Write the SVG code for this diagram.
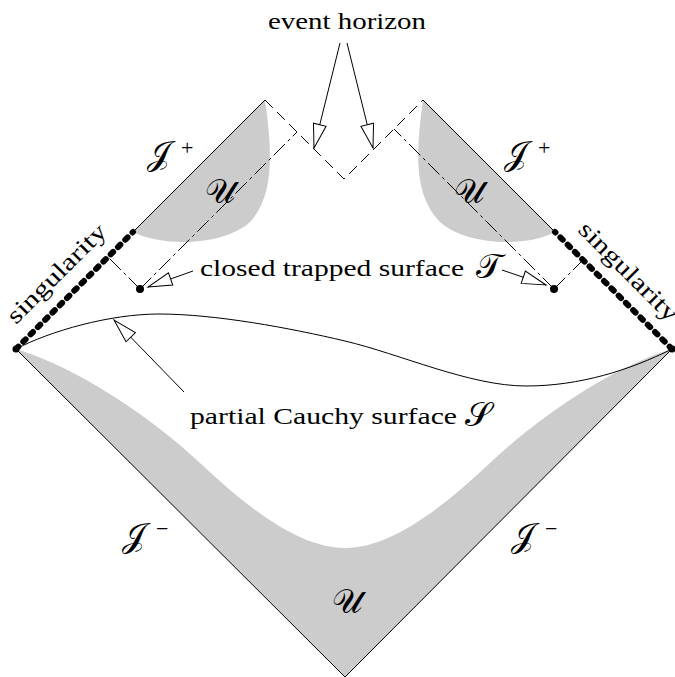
<svg xmlns="http://www.w3.org/2000/svg" width="675" height="677" viewBox="0 0 675 677">
<defs>
<marker id="ah" markerUnits="userSpaceOnUse" viewBox="-26 -8 28 16" refX="0" refY="0" markerWidth="28" markerHeight="16" orient="auto" overflow="visible">
<path d="M0,0 L-24,-6.5 L-24,6.5 Z" fill="#fff" stroke="#000" stroke-width="1" stroke-linejoin="miter"/>
</marker>
<style>
.region{fill:#cccccc;stroke:none}
.edge{fill:none;stroke:#000;stroke-width:1}
.horizon{fill:none;stroke:#000;stroke-width:1;stroke-dasharray:11 6}
.trap{fill:none;stroke:#000;stroke-width:1;stroke-dasharray:16 4 3 4}
.sing{fill:none;stroke:#000;stroke-width:6;stroke-linecap:round;stroke-dasharray:3.4 6.9}
.arrow{fill:none;stroke:#000;stroke-width:1;marker-end:url(#ah)}
.lbl{font-family:"Liberation Serif","DejaVu Serif",serif;font-size:24px;fill:#000}
.scr{font-family:"DejaVu Sans","Noto Sans","Liberation Serif",serif;font-size:34px;fill:#000}
.sup{font-family:"Liberation Serif",serif;font-size:22px;fill:#000}
</style>
</defs>
<rect width="675" height="677" fill="#fff"/>
<g id="regions">
<path id="U-top-left" class="region" d="M265,100 C272,150 275,195 250,222 C225,245 165,248 133,232 Z"/>
<path id="U-top-right" class="region" d="M423,100 C416,150 413,195 440,222 C465,245 525,248 555,232 Z"/>
<path id="U-bottom" class="region" d="M16,349 C76,367 150,416 200,463 C250,510 300,548 345,548 C390,548 440,510 490,463 C540,416 612,367 672,349 L345,677 Z"/>
</g>
<g id="boundary">
<path class="edge" d="M133,232 L265,100"/>
<path class="edge" d="M423,100 L555,232"/>
<path class="edge" d="M16,349 L345,677 L672,349"/>
<path class="sing" d="M16,349 L133,232"/>
<path class="sing" d="M672,349 L555,232"/>
<circle cx="16" cy="349" r="3.5"/>
<circle cx="672" cy="349" r="3.5"/>
</g>
<g id="event-horizon">
<path class="horizon" d="M265,100 L344,179 L423,100"/>
</g>
<g id="trapped-surface">
<path class="trap" d="M140,289 L297,132"/>
<path class="trap" d="M140,289 L108,257"/>
<path class="trap" d="M554,289 L394,129"/>
<path class="trap" d="M554,289 L583,260"/>
<circle cx="140" cy="289" r="4"/>
<circle cx="554" cy="289" r="4"/>
</g>
<g id="cauchy-surface">
<path class="edge" stroke-width="1.2" d="M16,349 C50,331 110,314 159,314 C215,314 290,328 345,341 C400,354 470,386 526,386 C580,386 630,370 672,349"/>
</g>
<g id="connectors">
<path class="arrow" d="M340,43 L314,148"/>
<path class="arrow" d="M347,43 L373,148"/>
<path class="arrow" d="M193,271 L148,287"/>
<path class="arrow" d="M502,270 L546,285"/>
<path class="arrow" d="M184,392 L114,320"/>
</g>
<g id="labels">
<text class="lbl" x="268" y="29" textLength="158" lengthAdjust="spacingAndGlyphs">event horizon</text>
<text class="lbl" x="200" y="276" textLength="264" lengthAdjust="spacingAndGlyphs">closed trapped surface</text>
<text class="lbl" x="190" y="424" textLength="267" lengthAdjust="spacingAndGlyphs">partial Cauchy surface</text>
<text class="lbl" transform="rotate(-45 62 279)" x="62" y="279" text-anchor="middle" textLength="130" lengthAdjust="spacingAndGlyphs">singularity</text>
<text class="lbl" transform="rotate(45 623 277)" x="623" y="277" text-anchor="middle" textLength="130" lengthAdjust="spacingAndGlyphs">singularity</text>
<text class="scr" x="147" y="165">𝒥</text><text class="sup" x="181" y="155">+</text>
<text class="scr" x="504" y="165">𝒥</text><text class="sup" x="538" y="155">+</text>
<text class="scr" x="122" y="547">𝒥</text><text class="sup" x="156" y="536">−</text>
<text class="scr" x="511" y="547">𝒥</text><text class="sup" x="545" y="536">−</text>
<text class="scr" x="205" y="203">𝒰</text>
<text class="scr" x="454" y="203">𝒰</text>
<text class="scr" x="332" y="613">𝒰</text>
<text class="scr" x="476" y="278">𝒯</text>
<text class="scr" x="465" y="426">𝒮</text>
</g>
</svg>
